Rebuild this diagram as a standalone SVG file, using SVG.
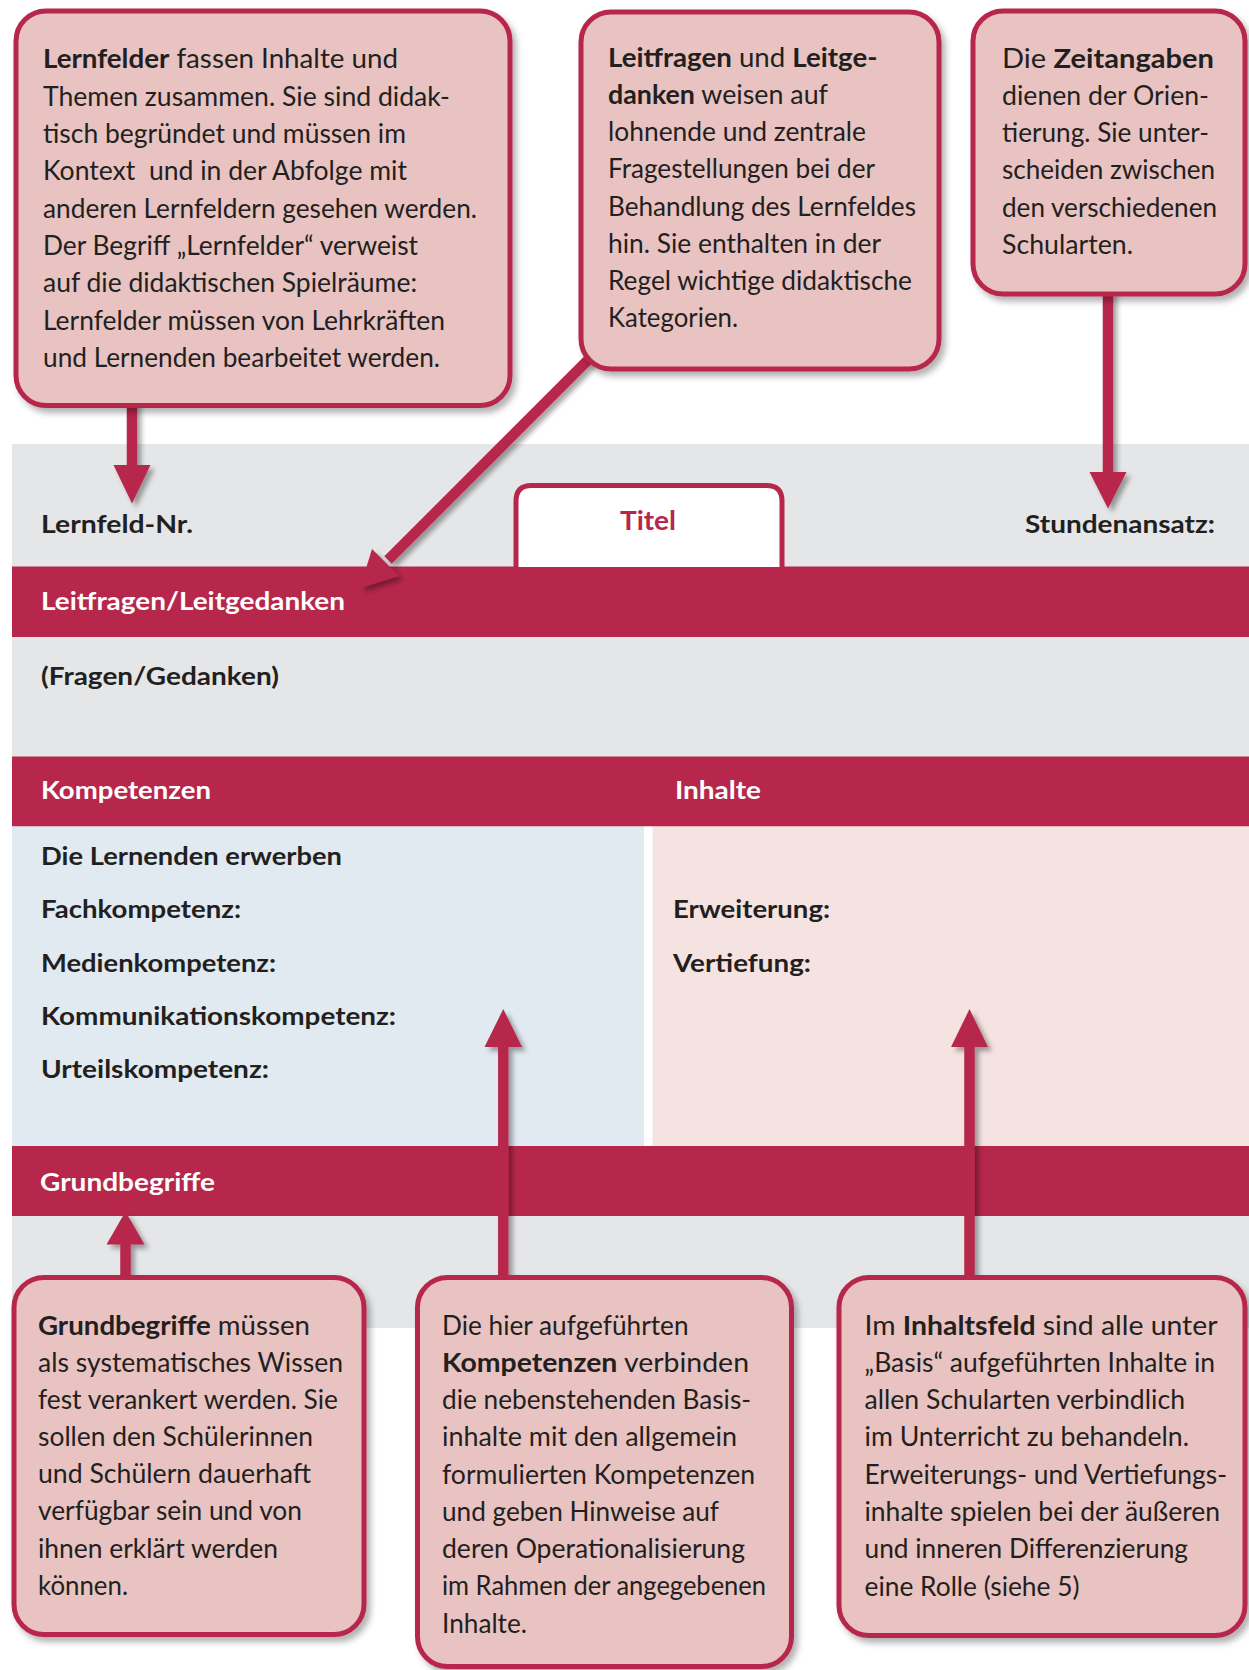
<svg xmlns="http://www.w3.org/2000/svg" width="1249" height="1670" viewBox="0 0 1249 1670">
<defs>
<filter id="sh" x="-10%" y="-10%" width="130%" height="130%">
<feDropShadow dx="4" dy="5" stdDeviation="3" flood-color="#000" flood-opacity="0.3"/>
</filter>
<filter id="ash" x="-50%" y="-20%" width="200%" height="140%">
<feDropShadow dx="4" dy="4" stdDeviation="2.5" flood-color="#000" flood-opacity="0.35"/>
</filter>
<style>
.box{fill:#e8c3c1;stroke:#b7274b;stroke-width:5;filter:url(#sh)}
.bt{font-family:"Lato","Liberation Sans",sans-serif;font-size:27px;fill:#231f20}
.b{font-weight:bold}
.lbl{font-family:"Lato","Liberation Sans",sans-serif;font-size:25.5px;font-weight:bold;fill:#231f20}
.wl{font-family:"Lato","Liberation Sans",sans-serif;font-size:25.5px;font-weight:bold;fill:#ffffff}
.bar{fill:#b7274b}
.arr{fill:#b7274b}
.stem{stroke:#b7274b;stroke-width:10.5;fill:none}
</style>
</defs>

<g id="table">
<rect x="12" y="444" width="1237" height="884" fill="#e5e6e8"/>
<rect class="bar" x="12" y="566.5" width="1237" height="70.5"/>
<rect class="bar" x="12" y="756.5" width="1237" height="70"/>
<rect x="12" y="826.5" width="632" height="320" fill="#e1e9f1"/>
<rect x="644" y="826.5" width="8.7" height="320" fill="#ffffff"/>
<rect x="652.7" y="826.5" width="596.3" height="320" fill="#f5e3e2"/>
<rect class="bar" x="12" y="1146" width="1237" height="70"/>
<path d="M516,567 V501 Q516,485.5 531.5,485.5 H766.5 Q782,485.5 782,501 V567" fill="#ffffff" stroke="#b7274b" stroke-width="5"/>
<text class="lbl" x="41" y="533" textLength="152" lengthAdjust="spacingAndGlyphs">Lernfeld-Nr.</text>
<text x="620" y="530" font-family="Lato, 'Liberation Sans', sans-serif" font-size="27" font-weight="bold" fill="#b7274b" textLength="56" lengthAdjust="spacingAndGlyphs">Titel</text>
<text class="lbl" x="1025" y="533" textLength="190" lengthAdjust="spacingAndGlyphs">Stundenansatz:</text>
<text class="wl" x="41" y="610" textLength="304" lengthAdjust="spacingAndGlyphs">Leitfragen/Leitgedanken</text>
<text class="lbl" x="41" y="685" textLength="238" lengthAdjust="spacingAndGlyphs">(Fragen/Gedanken)</text>
<text class="wl" x="41" y="799" textLength="170" lengthAdjust="spacingAndGlyphs">Kompetenzen</text>
<text class="wl" x="675" y="799" textLength="86" lengthAdjust="spacingAndGlyphs">Inhalte</text>
<text class="lbl" x="41" y="865" textLength="301" lengthAdjust="spacingAndGlyphs">Die Lernenden erwerben</text>
<text class="lbl" x="41" y="918" textLength="200" lengthAdjust="spacingAndGlyphs">Fachkompetenz:</text>
<text class="lbl" x="41" y="972" textLength="235" lengthAdjust="spacingAndGlyphs">Medienkompetenz:</text>
<text class="lbl" x="41" y="1025" textLength="355" lengthAdjust="spacingAndGlyphs">Kommunikationskompetenz:</text>
<text class="lbl" x="41" y="1078" textLength="228" lengthAdjust="spacingAndGlyphs">Urteilskompetenz:</text>
<text class="lbl" x="673" y="918" textLength="157" lengthAdjust="spacingAndGlyphs">Erweiterung:</text>
<text class="lbl" x="673" y="972" textLength="138" lengthAdjust="spacingAndGlyphs">Vertiefung:</text>
<text class="wl" x="40" y="1191" textLength="175" lengthAdjust="spacingAndGlyphs">Grundbegriffe</text>
</g>

<g id="connectors" filter="url(#ash)">
<path class="stem" d="M132,400 V468"/>
<polygon class="arr" points="113.5,465 150.5,465 132,503.5"/>
<path class="stem" d="M1108,290 V475"/>
<polygon class="arr" points="1089.5,472 1126.5,472 1108,508.5"/>
<path class="stem" d="M590,358 L388,560"/>
<polygon class="arr" points="372,549 399,576 360,588"/>
<path class="stem" d="M125.5,1285 V1240"/>
<polygon class="arr" points="106.5,1244.5 144.5,1244.5 125.5,1211.5"/>
<path class="stem" d="M503.3,1285 V1043"/>
<polygon class="arr" points="484.5,1047 522,1047 503.3,1009"/>
<path class="stem" d="M969.5,1285 V1043"/>
<polygon class="arr" points="951,1047 988,1047 969.5,1009"/>
</g>

<g id="box-lernfelder">
<rect class="box" x="16" y="11" width="494" height="394.5" rx="30"/>
<text class="bt" x="43" y="68" textLength="355" lengthAdjust="spacingAndGlyphs"><tspan class="b">Lernfelder</tspan> fassen Inhalte und</text>
<text class="bt" x="43" y="106" textLength="407" lengthAdjust="spacingAndGlyphs">Themen zusammen. Sie sind didak-</text>
<text class="bt" x="43" y="143" textLength="363" lengthAdjust="spacingAndGlyphs">tisch begründet und müssen im</text>
<text class="bt" x="43" y="180" textLength="364" lengthAdjust="spacingAndGlyphs" xml:space="preserve">Kontext  und in der Abfolge mit</text>
<text class="bt" x="43" y="218" textLength="434" lengthAdjust="spacingAndGlyphs">anderen Lernfeldern gesehen werden.</text>
<text class="bt" x="43" y="255" textLength="375" lengthAdjust="spacingAndGlyphs">Der Begriff „Lernfelder“ verweist</text>
<text class="bt" x="43" y="292" textLength="374" lengthAdjust="spacingAndGlyphs">auf die didaktischen Spielräume:</text>
<text class="bt" x="43" y="330" textLength="402" lengthAdjust="spacingAndGlyphs">Lernfelder müssen von Lehrkräften</text>
<text class="bt" x="43" y="367" textLength="397" lengthAdjust="spacingAndGlyphs">und Lernenden bearbeitet werden.</text>
</g>

<g id="box-leitfragen">
<rect class="box" x="581" y="12" width="358" height="357" rx="30"/>
<text class="bt" x="608" y="67" textLength="269.5" lengthAdjust="spacingAndGlyphs"><tspan class="b">Leitfragen</tspan> und <tspan class="b">Leitge-</tspan></text>
<text class="bt" x="608" y="104" textLength="220" lengthAdjust="spacingAndGlyphs"><tspan class="b">danken</tspan> weisen auf</text>
<text class="bt" x="608" y="141" textLength="258" lengthAdjust="spacingAndGlyphs">lohnende und zentrale</text>
<text class="bt" x="608" y="178" textLength="267" lengthAdjust="spacingAndGlyphs">Fragestellungen bei der</text>
<text class="bt" x="608" y="216" textLength="308" lengthAdjust="spacingAndGlyphs">Behandlung des Lernfeldes</text>
<text class="bt" x="608" y="253" textLength="273" lengthAdjust="spacingAndGlyphs">hin. Sie enthalten in der</text>
<text class="bt" x="608" y="290" textLength="304" lengthAdjust="spacingAndGlyphs">Regel wichtige didaktische</text>
<text class="bt" x="608" y="327" textLength="130" lengthAdjust="spacingAndGlyphs">Kategorien.</text>
</g>

<g id="box-zeitangaben">
<rect class="box" x="973" y="11" width="272" height="283" rx="30"/>
<text class="bt" x="1002" y="67.5" textLength="212" lengthAdjust="spacingAndGlyphs">Die <tspan class="b">Zeitangaben</tspan></text>
<text class="bt" x="1002" y="104.5" textLength="207" lengthAdjust="spacingAndGlyphs">dienen der Orien-</text>
<text class="bt" x="1002" y="142" textLength="207" lengthAdjust="spacingAndGlyphs">tierung. Sie unter-</text>
<text class="bt" x="1002" y="179" textLength="213" lengthAdjust="spacingAndGlyphs">scheiden zwischen</text>
<text class="bt" x="1002" y="216.5" textLength="215" lengthAdjust="spacingAndGlyphs">den verschiedenen</text>
<text class="bt" x="1002" y="254" textLength="131" lengthAdjust="spacingAndGlyphs">Schularten.</text>
</g>

<g id="box-grundbegriffe">
<rect class="box" x="14" y="1277.5" width="350" height="357" rx="30"/>
<text class="bt" x="38" y="1335" textLength="272" lengthAdjust="spacingAndGlyphs"><tspan class="b">Grundbegriffe</tspan> müssen</text>
<text class="bt" x="38" y="1372" textLength="305" lengthAdjust="spacingAndGlyphs">als systematisches Wissen</text>
<text class="bt" x="38" y="1409" textLength="300" lengthAdjust="spacingAndGlyphs">fest verankert werden. Sie</text>
<text class="bt" x="38" y="1446" textLength="275" lengthAdjust="spacingAndGlyphs">sollen den Schülerinnen</text>
<text class="bt" x="38" y="1483" textLength="273" lengthAdjust="spacingAndGlyphs">und Schülern dauerhaft</text>
<text class="bt" x="38" y="1520" textLength="264" lengthAdjust="spacingAndGlyphs">verfügbar sein und von</text>
<text class="bt" x="38" y="1558" textLength="240" lengthAdjust="spacingAndGlyphs">ihnen erklärt werden</text>
<text class="bt" x="38" y="1595" textLength="90" lengthAdjust="spacingAndGlyphs">können.</text>
</g>

<g id="box-kompetenzen">
<rect class="box" x="417.5" y="1277.5" width="374" height="389" rx="30"/>
<text class="bt" x="442" y="1335" textLength="246.6" lengthAdjust="spacingAndGlyphs">Die hier aufgeführten</text>
<text class="bt" x="442" y="1372" textLength="307" lengthAdjust="spacingAndGlyphs"><tspan class="b">Kompetenzen</tspan> verbinden</text>
<text class="bt" x="442" y="1409" textLength="309" lengthAdjust="spacingAndGlyphs">die nebenstehenden Basis-</text>
<text class="bt" x="442" y="1446" textLength="295" lengthAdjust="spacingAndGlyphs">inhalte mit den allgemein</text>
<text class="bt" x="442" y="1484" textLength="313" lengthAdjust="spacingAndGlyphs">formulierten Kompetenzen</text>
<text class="bt" x="442" y="1521" textLength="277" lengthAdjust="spacingAndGlyphs">und geben Hinweise auf</text>
<text class="bt" x="442" y="1558" textLength="303" lengthAdjust="spacingAndGlyphs">deren Operationalisierung</text>
<text class="bt" x="442" y="1595" textLength="324" lengthAdjust="spacingAndGlyphs">im Rahmen der angegebenen</text>
<text class="bt" x="442" y="1633" textLength="85" lengthAdjust="spacingAndGlyphs">Inhalte.</text>
</g>

<g id="box-inhaltsfeld">
<rect class="box" x="839" y="1277.5" width="406" height="358" rx="30"/>
<text class="bt" x="864.5" y="1335" textLength="353" lengthAdjust="spacingAndGlyphs">Im <tspan class="b">Inhaltsfeld</tspan> sind alle unter</text>
<text class="bt" x="864.5" y="1372" textLength="350.5" lengthAdjust="spacingAndGlyphs">„Basis“ aufgeführten Inhalte in</text>
<text class="bt" x="864.5" y="1409" textLength="320.5" lengthAdjust="spacingAndGlyphs">allen Schularten verbindlich</text>
<text class="bt" x="864.5" y="1446" textLength="324.5" lengthAdjust="spacingAndGlyphs">im Unterricht zu behandeln.</text>
<text class="bt" x="864.5" y="1484" textLength="362.5" lengthAdjust="spacingAndGlyphs">Erweiterungs- und Vertiefungs-</text>
<text class="bt" x="864.5" y="1521" textLength="355.5" lengthAdjust="spacingAndGlyphs">inhalte spielen bei der äußeren</text>
<text class="bt" x="864.5" y="1558" textLength="323.5" lengthAdjust="spacingAndGlyphs">und inneren Differenzierung</text>
<text class="bt" x="864.5" y="1596" textLength="215" lengthAdjust="spacingAndGlyphs">eine Rolle (siehe 5)</text>
</g>
</svg>
